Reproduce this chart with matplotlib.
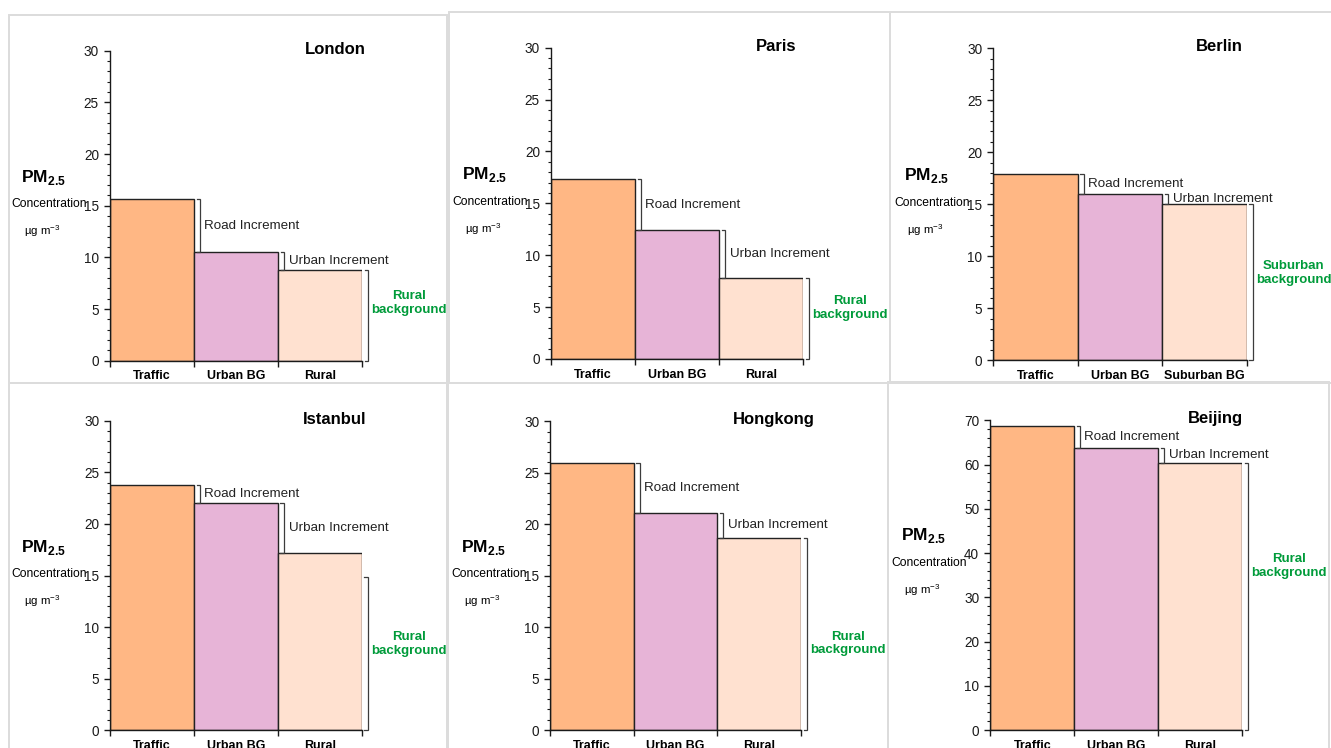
import matplotlib
matplotlib.use("Agg")
import matplotlib.pyplot as plt
from matplotlib.patches import Rectangle
from matplotlib.ticker import MultipleLocator
import matplotlib.transforms as mtransforms

plt.rcParams["font.family"] = ["Liberation Sans", "DejaVu Sans"]
plt.rcParams["mathtext.fontset"] = "custom"
plt.rcParams["mathtext.rm"] = "Liberation Sans"
plt.rcParams["mathtext.bf"] = "Liberation Sans:bold"

# PM2.5 concentrations (µg m-3) at traffic, urban background and background sites
cities = ["London", "Paris", "Berlin", "Istanbul", "Hongkong", "Beijing"]
traffic = [15.6, 17.3, 17.9, 23.8, 25.9, 68.6]
urban_bg = [10.5, 12.4, 16.0, 22.0, 21.1, 63.8]
background = [8.8, 7.8, 15.0, 17.2, 18.7, 60.4]
background_kind = ["Rural", "Rural", "Suburban", "Rural", "Rural", "Rural"]
background_bracket_top = [8.8, 7.8, 15.0, 14.9, 18.7, 60.4]
y_max = [30, 30, 30, 30, 30, 70]
y_major = [5, 5, 5, 5, 5, 10]

bar_colors = ["#FFB784", "#E7B4D7", "#FFE1D0"]
green = "#009B3A"
bracket_color = "#3c3c3c"

W, H = 1331, 748
fig = plt.figure(figsize=(W / 100, H / 100), dpi=100)
fig.patch.set_facecolor("white")

# panel frames (pixels: left, top, right, bottom)
frames = [(9, 15, 447, 383), (449, 12, 890, 383), (890, 12, 1333, 383),
          (9, 383, 447, 750), (448, 383, 888, 750), (888, 382, 1329, 750)]
for l, t, r, b in frames:
    fig.patches.append(Rectangle((l / W, 1 - b / H), (r - l) / W, (b - t) / H,
                                 transform=fig.transFigure, fill=False,
                                 edgecolor="#dcdcdc", lw=1.4))

# plot areas (pixels: x0, x1, y_top, y_bottom)
areas = [(110, 362, 50.7, 360.7), (551, 803.3, 47.7, 359), (993.3, 1246.7, 48.3, 360.3),
         (110.3, 361.7, 420.7, 730.3), (550.3, 801, 421.3, 730), (990.3, 1242.3, 420.3, 730)]

green_y = [0.187, 0.165, 0.28, 0.28, 0.28, 0.53]
ylab_shift = [0, 0, 0, 0, 0, 0.035]


def bracket(ax, x, y0, y1):
    ax.plot([x - 0.04, x, x, x - 0.04], [y1, y1, y0, y0], color=bracket_color,
            lw=0.9, clip_on=False, solid_joinstyle="miter")


for i, city in enumerate(cities):
    x0, x1, yt, yb = areas[i]
    ax = fig.add_axes([x0 / W, 1 - yb / H, (x1 - x0) / W, (yb - yt) / H])
    vals = [traffic[i], urban_bg[i], background[i]]
    ax.bar([0, 1, 2], vals, width=1.0, align="edge", color=bar_colors,
           edgecolor="#222222", linewidth=1.0, zorder=2)
    ax.set_xlim(0, 3)
    ax.set_ylim(0, y_max[i])
    for s in ("top", "right"):
        ax.spines[s].set_visible(False)
    for s in ("left", "bottom"):
        ax.spines[s].set_linewidth(1.0)
        ax.spines[s].set_color("#1a1a1a")

    ax.yaxis.set_major_locator(MultipleLocator(y_major[i]))
    ax.yaxis.set_minor_locator(MultipleLocator(y_major[i] / 5))
    ax.tick_params(axis="y", which="major", direction="out", length=4.5, width=1,
                   labelsize=9.8, pad=3.5, colors="#1a1a1a")
    ax.tick_params(axis="y", which="minor", direction="out", length=2.5, width=0.8,
                   colors="#1a1a1a")

    last = f"{background_kind[i]} BG" if background_kind[i] == "Suburban" else background_kind[i]
    cats = ["Traffic", "Urban BG", last]
    ax.set_xticks([0, 1, 2, 3])
    ax.set_xticklabels([])
    ax.set_xticks([0.5, 1.5, 2.5], cats, minor=True)
    ax.tick_params(axis="x", which="major", direction="out", length=4, width=1, colors="#1a1a1a")
    ax.tick_params(axis="x", which="minor", length=0, pad=7, labelsize=9)
    for lab in ax.get_xticklabels(minor=True):
        lab.set_fontweight("bold")

    # title
    tr = mtransforms.blended_transform_factory(ax.transData, ax.transAxes)
    ax.text(2.68, 1.005, city, transform=tr, ha="center", va="center",
            fontsize=12, fontweight="bold")

    # increments
    bracket(ax, 1.07, urban_bg[i], traffic[i])
    ax.text(1.12, (urban_bg[i] + traffic[i]) / 2, "Road Increment", ha="left",
            va="center", fontsize=9.6, color="#222222")
    bracket(ax, 2.07, background[i], urban_bg[i])
    ax.text(2.13, (background[i] + urban_bg[i]) / 2, "Urban Increment", ha="left",
            va="center", fontsize=9.6, color="#222222")
    bracket(ax, 3.07, 0, background_bracket_top[i])
    ax.annotate(f"{background_kind[i]}\nbackground", xy=(1, green_y[i]),
                xycoords="axes fraction", xytext=(47 * 0.72, 0),
                textcoords="offset points", ha="center", va="center",
                fontsize=9.5, fontweight="bold", color=green, linespacing=1.2)

    # y-axis label
    sh = ylab_shift[i]
    ax.annotate(r"$\mathbf{PM}_{\mathbf{2.5}}$", xy=(0, 0.592 + sh), xycoords="axes fraction",
                xytext=(-67 * 0.72, 0), textcoords="offset points", ha="center",
                va="center", fontsize=12.5)
    ax.annotate("Concentration", xy=(0, 0.504 + sh), xycoords="axes fraction",
                xytext=(-61 * 0.72, 0), textcoords="offset points", ha="center",
                va="center", fontsize=8.7)
    ax.annotate(r"µg m$^{-3}$", xy=(0, 0.418 + sh), xycoords="axes fraction",
                xytext=(-68 * 0.72, 0), textcoords="offset points", ha="center",
                va="center", fontsize=8.2)

fig.savefig("out.png", dpi=100)
